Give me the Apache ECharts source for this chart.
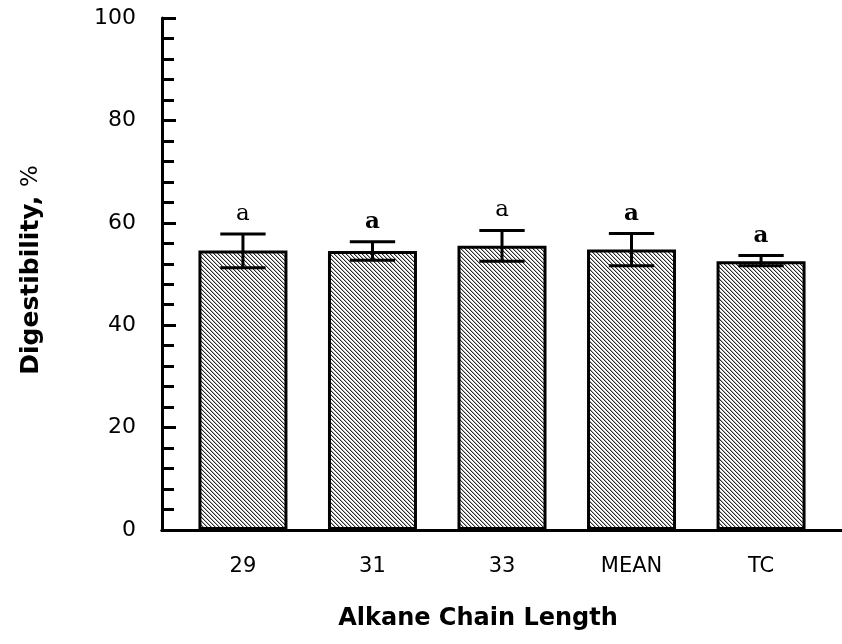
<!DOCTYPE html>
<html>
<head>
<meta charset="utf-8">
<script src="https://cdn.jsdelivr.net/npm/echarts@6/dist/echarts.min.js"></script>
<style>
  html, body { margin: 0; padding: 0; background: #fff; }
  #main { width: 842px; height: 644px; }
</style>
</head>
<body>
<div id="main"></div>
<script>
// data
var categories = ['29', '31', '33', 'MEAN', 'TC'];
var digestibility = [54.6, 54.5, 55.5, 54.8, 52.5];
var errPlus = [3.2, 1.8, 3.0, 3.1, 1.1];
var errMinus = [3.4, 1.8, 3.0, 3.2, 0.9];
var letters = ['a', 'a', 'a', 'a', 'a'];
var yTicks = [0, 20, 40, 60, 80, 100];

// hatch fill ( \\\ diagonal lines )
function hatch() {
  var c = document.createElement('canvas');
  c.width = 4; c.height = 4;
  var g = c.getContext('2d');
  g.fillStyle = '#fff';
  g.fillRect(0, 0, 4, 4);
  for (var i = 0; i < 4; i++) {
    g.fillStyle = '#2a2a2a';
    g.fillRect(i, i, 1, 1);
    g.fillStyle = '#b4b4b4';
    g.fillRect((i + 1) % 4, i, 1, 1);
  }
  return c;
}

var xs = categories.map(function (c, i) { return i + 1; });
var barData = xs.map(function (x, i) { return [x, digestibility[i]]; });
var errData = xs.map(function (x, i) {
  return [x, digestibility[i] - errMinus[i], digestibility[i] + errPlus[i], i];
});

var chart = echarts.init(document.getElementById('main'));
var font = '"DejaVu Sans", sans-serif';
var bold = [false, true, false, true, true]; // some letters print heavier

var option = {
  animation: false,
  backgroundColor: '#fff',
  grid: { left: 162, right: -5, top: 18, bottom: 114 },
  xAxis: [{
    type: 'value',
    min: 0.375,
    max: 5.625,
    axisLine: { show: true, onZero: false, lineStyle: { color: '#000', width: 3 } },
    axisTick: { show: false },
    splitLine: { show: false },
    axisLabel: {
      customValues: xs,
      margin: 26,
      color: '#000',
      fontFamily: font,
      fontSize: 21,
      formatter: function (v) { return categories[Math.round(v) - 1]; }
    }
  }, {
    type: 'value',
    position: 'top',
    min: 0.375,
    max: 5.625,
    axisLine: { show: true, lineStyle: { color: '#000', width: 3 } },
    axisTick: { show: false },
    axisLabel: { show: false },
    splitLine: { show: false }
  }],
  yAxis: {
    type: 'value',
    min: yTicks[0],
    max: yTicks[yTicks.length - 1],
    interval: 20,
    axisLine: { show: true, lineStyle: { color: '#000', width: 3 } },
    axisTick: { show: true, inside: true, length: 14, lineStyle: { color: '#000', width: 3 } },
    minorTick: { show: true, splitNumber: 5, length: 12, lineStyle: { color: '#000', width: 3 } },
    splitLine: { show: false },
    axisLabel: { color: '#000', fontFamily: font, fontSize: 22, margin: 26 }
  },
  series: [{
    type: 'bar',
    data: barData,
    barWidth: 89,
    itemStyle: {
      color: { image: hatch(), repeat: 'repeat' },
      borderColor: '#000',
      borderWidth: 3
    },
    z: 2
  }, {
    type: 'custom',
    data: errData,
    z: 3,
    renderItem: function (params, api) {
      var x = api.value(0);
      var lo = api.coord([x, api.value(1)]);
      var hi = api.coord([x, api.value(2)]);
      var half = api.size([0.175, 0])[0];
      var idx = api.value(3);
      var st = { stroke: '#000', lineWidth: 3 };
      return {
        type: 'group',
        children: [
          { type: 'line', shape: { x1: hi[0], y1: hi[1], x2: lo[0], y2: lo[1] }, style: st },
          { type: 'line', shape: { x1: hi[0] - half, y1: hi[1], x2: hi[0] + half, y2: hi[1] }, style: st },
          { type: 'line', shape: { x1: lo[0] - half, y1: lo[1], x2: lo[0] + half, y2: lo[1] }, style: st },
          {
            type: 'text',
            x: hi[0], y: hi[1] - 20,
            style: {
              text: letters[idx],
              fill: '#000',
              font: (bold[idx] ? 'bold ' : '') + '23px "DejaVu Serif", serif',
              align: 'center',
              verticalAlign: 'middle'
            }
          }
        ]
      };
    }
  }],
  graphic: [{
    type: 'text',
    x: 31, y: 270,
    rotation: Math.PI / 2,
    style: {
      text: '{b|Digestibility, }{n|%}',
      rich: {
        b: { font: 'bold 25px ' + font, fill: '#000' },
        n: { font: '23px ' + font, fill: '#000' }
      },
      align: 'center',
      verticalAlign: 'middle'
    }
  }, {
    type: 'text',
    x: 478, y: 619,
    style: {
      text: 'Alkane Chain Length',
      font: 'bold 24px ' + font,
      fill: '#000',
      align: 'center',
      verticalAlign: 'middle'
    }
  }]
};

chart.setOption(option);
</script>
</body>
</html>
